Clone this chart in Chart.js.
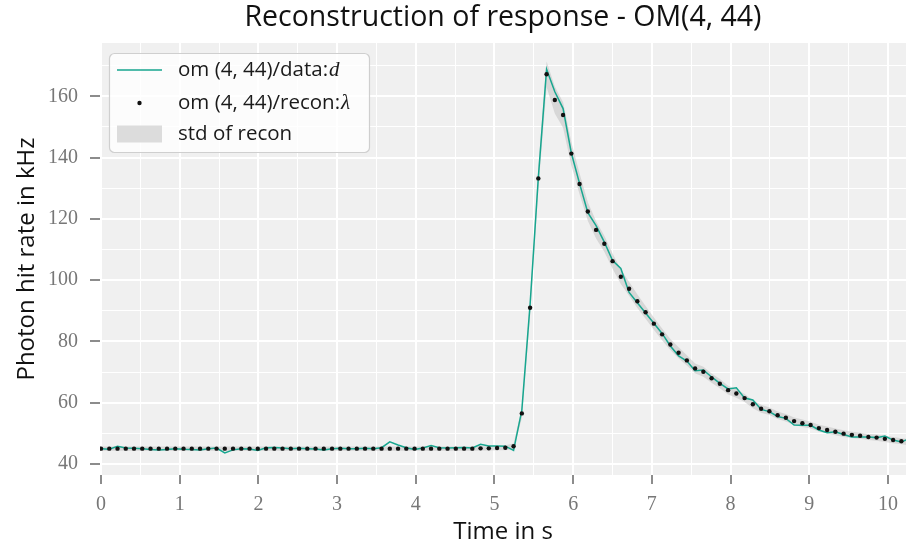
<!DOCTYPE html>
<html>
<head>
<meta charset="utf-8">
<script src="https://cdn.jsdelivr.net/npm/chart.js@4/dist/chart.umd.min.js"></script>
<style>
  body { margin: 0; background: #ffffff; }
  #wrap { width: 910px; height: 549px; }
</style>
</head>
<body>
<div id="wrap"><canvas id="responseChart" width="910" height="549"></canvas></div>
<script>
// --- Data ---
const binWidth = 0.1048576; // seconds per bin

const dataRate = [
    45.0, 44.8, 45.8, 45.2, 45.1, 45.0, 44.7, 44.6, 44.7, 45.0,
    44.8, 44.7, 44.6, 45.0, 45.2, 43.6, 44.6, 45.0, 44.9, 44.4,
    45.3, 45.4, 45.2, 45.0, 45.1, 45.0, 44.9, 44.6, 45.0, 45.1,
    45.0, 45.0, 45.1, 45.0, 45.3, 47.2, 46.2, 45.3, 44.7, 45.2,
    46.0, 45.3, 45.2, 45.3, 45.4, 45.2, 46.4, 45.9, 45.9, 45.8,
    44.4, 57.5, 92.0, 133.5, 168.8, 161.5, 156.0, 141.5, 131.5, 122.0,
    117.8, 112.4, 106.4, 103.8, 96.0, 92.6, 89.3, 85.9, 82.6, 78.5,
    75.3, 73.6, 70.4, 70.7, 68.4, 66.3, 64.5, 64.9, 61.5, 60.9,
    57.8, 57.1, 55.5, 54.9, 52.7, 52.6, 52.6, 51.1, 50.2, 50.5,
    49.6, 48.8, 48.8, 48.8, 48.6, 49.1, 47.8, 47.2, 48.3
];

const reconRate = [
    45.0, 45.0, 45.0, 45.0, 45.0, 45.0, 45.0, 45.0, 45.0, 45.0,
    45.0, 45.0, 45.0, 45.0, 45.0, 45.0, 45.0, 45.0, 45.0, 45.0,
    45.0, 45.0, 45.0, 45.0, 45.0, 45.0, 45.0, 45.0, 45.0, 45.0,
    45.0, 45.0, 45.0, 45.0, 45.0, 45.0, 45.0, 45.0, 45.0, 45.0,
    45.0, 45.0, 45.0, 45.0, 45.0, 45.0, 45.1, 45.1, 45.2, 45.3,
    45.8, 56.5, 91.0, 133.2, 167.2, 158.8, 153.9, 141.3, 131.4, 122.4,
    116.4, 111.9, 106.2, 101.1, 97.2, 93.1, 89.5, 85.8, 82.3, 79.0,
    76.3, 73.8, 71.2, 70.1, 68.0, 66.2, 64.1, 63.0, 61.5, 59.5,
    58.0, 57.2, 55.9, 55.1, 54.0, 53.3, 52.7, 51.7, 51.1, 50.5,
    49.9, 49.5, 49.2, 48.8, 48.6, 48.2, 47.8, 47.4, 47.1
];

const reconStd = [
    0.7, 0.7, 0.7, 0.7, 0.7, 0.7, 0.7, 0.7, 0.7, 0.7,
    0.7, 0.7, 0.7, 0.7, 0.7, 0.7, 0.7, 0.7, 0.7, 0.7,
    0.7, 0.7, 0.7, 0.7, 0.7, 0.7, 0.7, 0.7, 0.7, 0.7,
    0.7, 0.7, 0.7, 0.7, 0.7, 0.7, 0.7, 0.7, 0.7, 0.7,
    0.7, 0.7, 0.7, 0.7, 0.7, 0.7, 0.7, 0.7, 0.7, 0.8,
    0.9, 1.6, 2.6, 3.4, 4.2, 4.4, 4.2, 3.8, 3.4, 3.0,
    2.8, 2.6, 2.5, 2.4, 2.3, 2.2, 2.1, 2.0, 1.9, 1.8,
    1.8, 1.7, 1.6, 1.6, 1.5, 1.5, 1.4, 1.4, 1.3, 1.3,
    1.3, 1.2, 1.2, 1.2, 1.2, 1.2, 1.1, 1.1, 1.1, 1.1,
    1.1, 1.0, 1.0, 1.0, 1.0, 1.0, 1.0, 1.0, 1.0
];

const xTickLabels = [0, 1, 2, 3, 4, 5, 6, 7, 8, 9, 10];
const yTickLabels = [40, 60, 80, 100, 120, 140, 160];

const times = dataRate.map((_, i) => i * binWidth);

// --- Styling ---
const TEAL = '#17a68f';
const SANS = '"Open Sans"';
const SERIF = '"Liberation Serif"';
const isMajorX = (v) => xTickLabels.some(t => Math.abs(t - v) < 1e-6);
const isMajorY = (v) => yTickLabels.some(t => Math.abs(t - v) < 1e-6);

const toPoints = (values) => values.map((v, i) => ({ x: times[i], y: v }));

const plotBackground = {
    id: 'plotBackground',
    beforeDraw(chart) {
        const { ctx, chartArea: a } = chart;
        ctx.save();
        ctx.fillStyle = '#f0f0f0';
        ctx.fillRect(a.left, a.top, a.right - a.left, a.bottom - a.top);
        ctx.restore();
    }
};

const boxLegend = {
    id: 'boxLegend',
    afterDraw(chart) {
        const { ctx, chartArea: a } = chart;
        const x0 = a.left + 9.5, y0 = a.top + 10.5, w = 260, h = 99;
        ctx.save();
        ctx.beginPath();
        ctx.roundRect(x0, y0, w, h, 5);
        ctx.fillStyle = 'rgba(255,255,255,0.8)';
        ctx.fill();
        ctx.strokeStyle = '#cfcfcf';
        ctx.lineWidth = 1.2;
        ctx.stroke();

        const textX = a.left + 78;
        const rows = [a.top + 27, a.top + 60, a.top + 91];
        const writeRow = (y, plain, math) => {
            ctx.font = `20.5px ${SANS}`;
            ctx.fillStyle = '#1a1a1a';
            ctx.textBaseline = 'middle';
            ctx.fillText(plain, textX, y);
            if (math) {
                const wPlain = ctx.measureText(plain).width;
                ctx.font = `italic 21px ${SERIF}`;
                ctx.fillText(math, textX + wPlain + 1, y);
            }
        };

        // data line
        ctx.strokeStyle = TEAL;
        ctx.lineWidth = 1.3;
        ctx.beginPath();
        ctx.moveTo(a.left + 17, rows[0]);
        ctx.lineTo(a.left + 62, rows[0]);
        ctx.stroke();
        writeRow(rows[0], 'om (4, 44)/data:', 'd');

        // recon dot
        ctx.fillStyle = '#111111';
        ctx.beginPath();
        ctx.arc(a.left + 39.5, rows[1], 2.2, 0, Math.PI * 2);
        ctx.fill();
        writeRow(rows[1], 'om (4, 44)/recon:', 'λ');

        // std patch
        ctx.fillStyle = '#dcdcdc';
        ctx.fillRect(a.left + 17, rows[2] - 8.5, 45, 17);
        writeRow(rows[2], 'std of recon', '');
        ctx.restore();
    }
};

const ctx = document.getElementById('responseChart').getContext('2d');
new Chart(ctx, {
    type: 'line',
    data: {
        datasets: [
            {
                label: 'recon',
                data: toPoints(reconRate),
                showLine: false,
                pointRadius: 2.2,
                pointBackgroundColor: '#111111',
                pointBorderWidth: 0,
                order: 1
            },
            {
                label: 'data',
                data: toPoints(dataRate),
                borderColor: TEAL,
                borderWidth: 1.5,
                pointRadius: 0,
                tension: 0,
                fill: false,
                order: 2
            },
            {
                label: 'std low',
                data: toPoints(reconRate.map((v, i) => v - reconStd[i])),
                borderWidth: 0,
                pointRadius: 0,
                fill: false,
                order: 3
            },
            {
                label: 'std high',
                data: toPoints(reconRate.map((v, i) => v + reconStd[i])),
                borderWidth: 0,
                pointRadius: 0,
                backgroundColor: 'rgba(190,190,190,0.5)',
                fill: '-1',
                order: 3
            }
        ]
    },
    options: {
        responsive: false,
        animation: false,
        layout: { padding: 0 },
        plugins: {
            legend: { display: false },
            tooltip: { enabled: false },
            title: {
                display: true,
                fullSize: false,
                text: 'Reconstruction of response - OM(4, 44)',
                color: '#111111',
                font: { family: SANS, size: 28.5, weight: 'normal' },
                lineHeight: 1.2,
                padding: { top: 0.5, bottom: 8.3 }
            }
        },
        scales: {
            x: {
                type: 'linear',
                min: -0.013,
                max: 10.23,
                border: { display: false },
                afterFit: (s) => { s.height = 74; },
                grid: {
                    color: '#ffffff',
                    lineWidth: (c) => (c.tick && isMajorX(c.tick.value) ? 2 : 1),
                    tickColor: (c) => (c.tick && isMajorX(c.tick.value) ? '#666666' : 'rgba(0,0,0,0)'),
                    tickWidth: 1.5,
                    tickLength: 9
                },
                ticks: {
                    stepSize: 0.5,
                    includeBounds: false,
                    autoSkip: false,
                    maxRotation: 0,
                    padding: 9,
                    color: '#777777',
                    font: { family: SERIF, size: 20 },
                    callback: (v) => (isMajorX(v) ? Math.round(v) : '')
                },
                title: {
                    display: true,
                    text: 'Time in s',
                    color: '#111111',
                    font: { family: SANS, size: 24 },
                    padding: { top: 0, bottom: 2.5 }
                }
            },
            y: {
                min: 36.4,
                max: 177.4,
                border: { display: false },
                afterFit: (s) => { s.width = 100; },
                grid: {
                    color: '#ffffff',
                    lineWidth: (c) => (c.tick && isMajorY(c.tick.value) ? 2 : 1),
                    tickColor: (c) => (c.tick && isMajorY(c.tick.value) ? '#666666' : 'rgba(0,0,0,0)'),
                    tickWidth: 1.5,
                    tickLength: 10
                },
                ticks: {
                    stepSize: 10,
                    includeBounds: false,
                    autoSkip: false,
                    padding: 12,
                    color: '#777777',
                    font: { family: SERIF, size: 20 },
                    callback: (v) => (isMajorY(v) ? v : '')
                },
                title: {
                    display: true,
                    text: 'Photon hit rate in kHz',
                    color: '#111111',
                    font: { family: SANS, size: 24 },
                    padding: { top: 12.5, bottom: 0 }
                }
            }
        }
    },
    plugins: [plotBackground, boxLegend]
});
</script>
</body>
</html>
